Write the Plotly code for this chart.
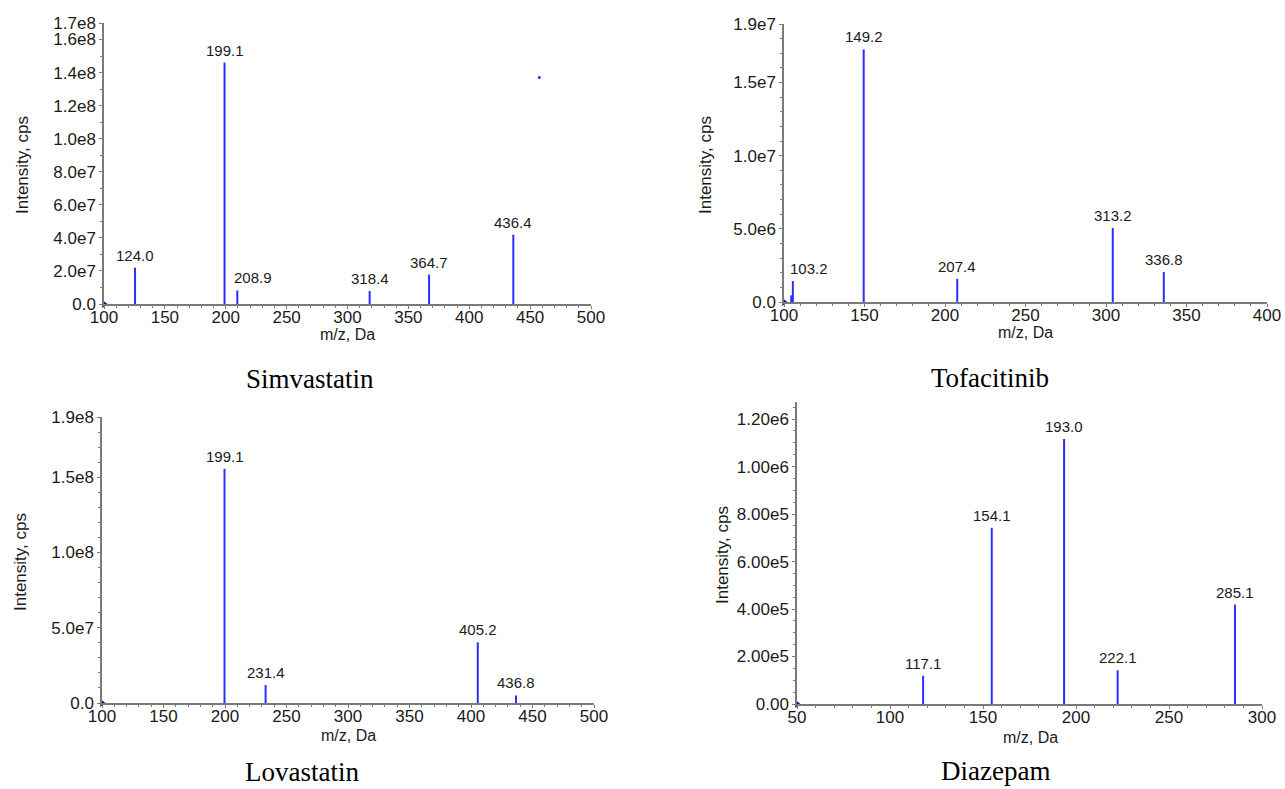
import plotly.graph_objects as go

W, H = 1285, 789

# ---------------- data ----------------
simva_mz = [125.5, 199.0, 209.5, 318.2, 367.0, 436.2]
simva_int = [2.2e7, 1.46e8, 0.82e7, 0.78e7, 1.78e7, 4.19e7]
simva_lbl = ["124.0", "199.1", "208.9", "318.4", "364.7", "436.4"]
simva_dot_mz = [457.5]
simva_dot_int = [1.37e8]

tofa_mz = [104.5, 105.5, 149.5, 207.6, 304.2, 335.9]
tofa_int = [0.45e6, 1.43e6, 1.726e7, 1.59e6, 5.05e6, 2.05e6]
tofa_lbl = ["", "103.2", "149.2", "207.4", "313.2", "336.8"]

lova_mz = [199.6, 233.0, 405.5, 436.6]
lova_int = [1.556e8, 1.19e7, 4.03e7, 5.0e6]
lova_lbl = ["199.1", "231.4", "405.2", "436.8"]

diaz_mz = [117.8, 154.7, 193.6, 222.4, 285.5]
diaz_int = [1.19e5, 7.42e5, 1.116e6, 1.42e5, 4.19e5]
diaz_lbl = ["117.1", "154.1", "193.0", "222.1", "285.1"]

simva_yticks = [0, 2e7, 4e7, 6e7, 8e7, 1e8, 1.2e8, 1.4e8, 1.6e8, 1.7e8]
simva_yticktext = ["0.0", "2.0e7", "4.0e7", "6.0e7", "8.0e7", "1.0e8", "1.2e8", "1.4e8", "1.6e8", "1.7e8"]
tofa_yticks = [0, 5e6, 1e7, 1.5e7, 1.9e7]
tofa_yticktext = ["0.0", "5.0e6", "1.0e7", "1.5e7", "1.9e7"]
lova_yticks = [0, 5e7, 1e8, 1.5e8, 1.9e8]
lova_yticktext = ["0.0", "5.0e7", "1.0e8", "1.5e8", "1.9e8"]
diaz_yticks = [0, 2e5, 4e5, 6e5, 8e5, 1e6, 1.2e6]
diaz_yticktext = ["0.00", "2.00e5", "4.00e5", "6.00e5", "8.00e5", "1.00e6", "1.20e6"]

titles = ["Simvastatin", "Tofacitinib", "Lovastatin", "Diazepam"]

# label placement tweaks (style only): labels drawn to the right of their peak
right_labels = {"208.9", "103.2"}

# ---------------- layout geometry (pixels) ----------------
panels = [
    dict(x0=104, x1=591, y0=23, y1=304, xr=[100, 500], yr=[0, 1.7e8], xt=list(range(100, 501, 50)),
         yt=simva_yticks, ytt=simva_yticktext, ymd=1e7, title_xy=(310, 379), xlab_xy=(347, 334), ylab_xy=(22, 165),
         mz=simva_mz, it=simva_int, lbl=simva_lbl),
    dict(x0=784, x1=1267, y0=24, y1=302, xr=[100, 400], yr=[0, 1.9e7], xt=list(range(100, 401, 50)),
         yt=tofa_yticks, ytt=tofa_yticktext, ymd=1e6, title_xy=(990, 378), xlab_xy=(1025, 333), ylab_xy=(705, 165),
         mz=tofa_mz, it=tofa_int, lbl=tofa_lbl),
    dict(x0=102, x1=594, y0=417, y1=703, xr=[100, 500], yr=[0, 1.9e8], xt=list(range(100, 501, 50)),
         yt=lova_yticks, ytt=lova_yticktext, ymd=1e7, title_xy=(302, 772), xlab_xy=(348, 735), ylab_xy=(20, 562),
         mz=lova_mz, it=lova_int, lbl=lova_lbl),
    dict(x0=797, x1=1262, y0=402, y1=704, xr=[50, 300], yr=[0, 1.272e6], xt=list(range(50, 301, 50)),
         yt=diaz_yticks, ytt=diaz_yticktext, ymd=5e4, title_xy=(995, 771), xlab_xy=(1030, 737), ylab_xy=(722, 555),
         mz=diaz_mz, it=diaz_int, lbl=diaz_lbl),
]

BLUE = "rgb(45,45,255)"
AXC = "#7a7a7a"
TICKFONT = dict(family="Liberation Sans, Arial", size=17, color="#1a1a1a")

fig = go.Figure()
annotations = []
layout = {}

for i, p in enumerate(panels):
    n = i + 1
    xa = "x" if n == 1 else f"x{n}"
    ya = "y" if n == 1 else f"y{n}"
    xkey = "xaxis" if n == 1 else f"xaxis{n}"
    ykey = "yaxis" if n == 1 else f"yaxis{n}"

    xs, ys = [], []
    for m, v in zip(p["mz"], p["it"]):
        xs += [m, m, None]
        ys += [0, v, None]
    fig.add_trace(go.Scatter(x=xs, y=ys, mode="lines", line=dict(color=BLUE, width=2),
                             xaxis=xa, yaxis=ya, showlegend=False, hoverinfo="skip"))
    # origin marker
    fig.add_trace(go.Scatter(x=[p["xr"][0]], y=[0], mode="markers",
                             marker=dict(symbol="triangle-right", size=7, color="#1010a0"),
                             xaxis=xa, yaxis=ya, showlegend=False, hoverinfo="skip", cliponaxis=False))
    for m, v, t in zip(p["mz"], p["it"], p["lbl"]):
        if t:
            right = t in right_labels
            annotations.append(dict(x=m, y=v, xref=xa, yref=ya, text=t, showarrow=False,
                                    yanchor="bottom", xanchor="left" if right else "center",
                                    xshift=-5 if right else 0, yshift=2,
                                    font=dict(family="Liberation Sans, Arial", size=15, color="#1a1a1a")))

    layout[xkey] = dict(domain=[p["x0"] / W, p["x1"] / W], range=p["xr"], anchor=ya, automargin=False,
                        tickmode="array", tickvals=p["xt"], ticktext=[str(v) for v in p["xt"]],
                        showline=True, linecolor=AXC, linewidth=1.5, showgrid=False, zeroline=False,
                        ticks="outside", ticklen=3, tickcolor=AXC, tickfont=TICKFONT, ticklabelstandoff=-6,
                        minor=dict(tickmode="linear", tick0=0, dtick=10, ticks="outside", ticklen=2,
                                   tickcolor=AXC, showgrid=False),
                        fixedrange=True)
    layout[ykey] = dict(domain=[1 - p["y1"] / H, 1 - p["y0"] / H], range=p["yr"], anchor=xa, automargin=False,
                        tickmode="array", tickvals=p["yt"], ticktext=p["ytt"],
                        showline=True, linecolor=AXC, linewidth=1.5, showgrid=False, zeroline=False,
                        ticks="outside", ticklen=3, tickcolor=AXC, tickfont=TICKFONT,
                        minor=dict(tickmode="linear", tick0=0, dtick=p["ymd"], ticks="outside", ticklen=2,
                                   tickcolor=AXC, showgrid=False),
                        fixedrange=True)

    tx, ty = p["title_xy"]
    annotations.append(dict(x=tx / W, y=1 - ty / H, xref="paper", yref="paper", text=titles[i],
                            showarrow=False, xanchor="center", yanchor="middle",
                            font=dict(family="Liberation Serif, Times New Roman", size=27, color="black")))
    lx, ly = p["xlab_xy"]
    annotations.append(dict(x=lx / W, y=1 - ly / H, xref="paper", yref="paper", text="m/z, Da",
                            showarrow=False, xanchor="center", yanchor="middle",
                            font=dict(family="Liberation Sans, Arial", size=16, color="#1a1a1a")))
    yx, yy = p["ylab_xy"]
    annotations.append(dict(x=yx / W, y=1 - yy / H, xref="paper", yref="paper", text="Intensity, cps",
                            showarrow=False, xanchor="center", yanchor="middle", textangle=-90,
                            font=dict(family="Liberation Sans, Arial", size=17, color="#1a1a1a")))

# stray point in the Simvastatin panel
fig.add_trace(go.Scatter(x=simva_dot_mz, y=simva_dot_int, mode="markers",
                         marker=dict(size=3, color=BLUE), xaxis="x", yaxis="y",
                         showlegend=False, hoverinfo="skip"))

fig.update_layout(width=W, height=H, margin=dict(l=0, r=0, t=0, b=0, autoexpand=False),
                  paper_bgcolor="white", plot_bgcolor="white",
                  annotations=annotations, **layout)

fig.write_html("out.html", config={"displayModeBar": False},
               post_script="document.body.style.margin='0px';document.body.style.overflow='hidden';")
